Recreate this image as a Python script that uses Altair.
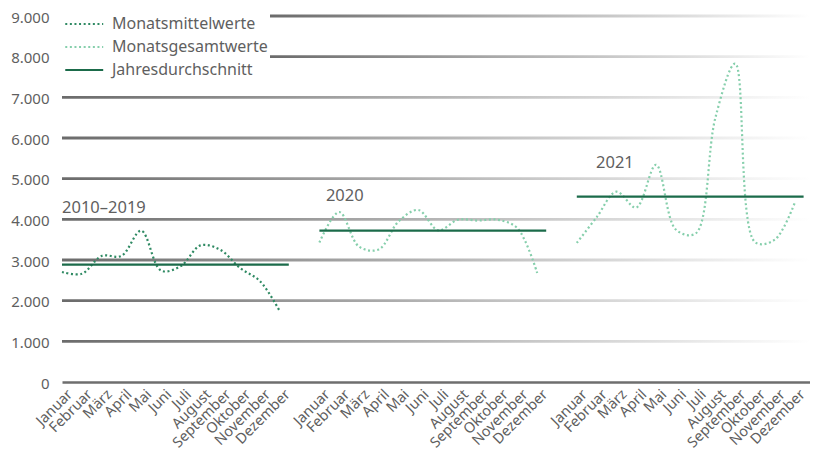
import altair as alt
import pandas as pd

months = ["Januar", "Februar", "März", "April", "Mai", "Juni", "Juli",
          "August", "September", "Oktober", "November", "Dezember"]
periods = ["2010–2019", "2020", "2021"]
period_series = ["Monatsmittelwerte", "Monatsgesamtwerte", "Monatsgesamtwerte"]
series_names = ["Monatsmittelwerte", "Monatsgesamtwerte", "Jahresdurchschnitt"]

vals_2010_2019 = [2705, 2660, 3100, 3100, 3720, 2740, 2850, 3360, 3250, 2800, 2480, 1740]
vals_2020 = [3430, 4180, 3330, 3260, 3950, 4230, 3730, 3990, 3970, 3990, 3780, 2680]
vals_2021 = [3420, 4050, 4680, 4290, 5340, 3750, 3650, 6500, 7830, 3440, 3500, 4400]
averages = [2885, 3720, 4560]

y_ticks = [0, 1000, 2000, 3000, 4000, 5000, 6000, 7000, 8000, 9000]
grid_full = [1000, 2000, 3000, 4000, 5000, 6000, 7000]
grid_short = [8000, 9000]

# annotation anchors (in data coordinates)
ann_x = [0, 13.33, 26.97]
ann_y = [4155, 4441, 5256]

SLOT = 13  # 12 months + 1 gap slot per period
W, H = 748, 366

rows = []
for p, vals in enumerate([vals_2010_2019, vals_2020, vals_2021]):
    for m, v in enumerate(vals):
        rows.append({"i": p * SLOT + m, "value": v, "series": period_series[p], "period": periods[p]})
line_df = pd.DataFrame(rows)

avg_df = pd.DataFrame({
    "start": [p * SLOT for p in range(3)],
    "end": [p * SLOT + 11 for p in range(3)],
    "avg": averages,
    "series": ["Jahresdurchschnitt"] * 3,
})
ann_df = pd.DataFrame({"x": ann_x, "y": ann_y, "label": periods})

tick_idx = [p * SLOT + m for p in range(3) for m in range(12)]
month_arr = "[" + ",".join("'" + m + "'" for m in months) + "]"

FONT = "Noto Sans"
TXT = "#5f5f5f"

xscale = alt.Scale(domain=[0, W / 19.8], nice=False, zero=False)
yscale = alt.Scale(domain=[0, 9000], nice=False)

xaxis = alt.Axis(values=tick_idx, labelExpr=f"{month_arr}[datum.value % {SLOT}]",
                 labelAngle=315, labelAlign="right", labelBaseline="top",
                 labelFontSize=14.5, labelFont=FONT, labelColor=TXT, labelOffset=3,
                 labelPadding=5, labelOverlap=False, labelFlush=False, labelBound=False,
                 ticks=False, grid=False, domainColor="#6e6e6e", domainWidth=2.5,
                 title=None)
yaxis = alt.Axis(values=y_ticks,
                 labelExpr="replace(format(datum.value, ','), ',', '.')",
                 labelFontSize=15, labelFont=FONT, labelColor=TXT, labelPadding=13,
                 labelOffset=1,
                 ticks=False, grid=False, domain=False, title=None)

colors = ["#2f8a63", "#86cfac", "#1b6b4a"]
dashes = [[2, 2.6], [2, 2.6], [1, 0]]
widths = [2.2, 2.2, 3]

legend = alt.Legend(title=None, orient="none", legendX=0, legendY=0,
                    symbolType="M-1,0H7", symbolSize=90,
                    labelFontSize=16, labelFont=FONT, labelColor=TXT,
                    labelOffset=34, rowPadding=7, padding=0)

color_enc = alt.Color("series:N", scale=alt.Scale(domain=series_names, range=colors), legend=legend)
dash_enc = alt.StrokeDash("series:N", scale=alt.Scale(domain=series_names, range=dashes), legend=legend)
width_enc = alt.StrokeWidth("series:N", scale=alt.Scale(domain=series_names, range=widths), legend=legend)


def grad():
    return alt.LinearGradient(gradient="linear", x1=0, x2=1, y1=0, y2=0,
                              stops=[alt.GradientStop(color="#6b6b6b", offset=0),
                                     alt.GradientStop(color="#ffffff", offset=1)])


grid_a = alt.Chart(pd.DataFrame({"v": grid_full})).transform_calculate(v2="datum.v").mark_rect(
    color=grad(), yOffset=-1.4, y2Offset=1.4
).encode(
    x=alt.value(0), x2=alt.value(W),
    y=alt.Y("v:Q", scale=yscale, axis=yaxis), y2="v2:Q",
)
grid_b = alt.Chart(pd.DataFrame({"v": grid_short})).transform_calculate(v2="datum.v").mark_rect(
    color=grad(), yOffset=-1.4, y2Offset=1.4
).encode(
    x=alt.value(208), x2=alt.value(W),
    y=alt.Y("v:Q", scale=yscale, axis=yaxis), y2="v2:Q",
)

lines = alt.Chart(line_df).mark_line(interpolate="catmull-rom", strokeCap="butt").encode(
    x=alt.X("i:Q", scale=xscale, axis=xaxis),
    y=alt.Y("value:Q", scale=yscale, axis=yaxis),
    color=color_enc, strokeDash=dash_enc, strokeWidth=width_enc,
    detail="period:N",
)

avg_rules = alt.Chart(avg_df).mark_rule(x2Offset=9, strokeCap="butt").encode(
    x=alt.X("start:Q", scale=xscale, axis=xaxis),
    x2="end:Q",
    y=alt.Y("avg:Q", scale=yscale, axis=yaxis),
    color=color_enc, strokeDash=dash_enc, strokeWidth=width_enc,
)

ann = alt.Chart(ann_df).mark_text(align="left", baseline="alphabetic", font=FONT,
                                  fontSize=16.5, color=TXT).encode(
    x=alt.X("x:Q", scale=xscale, axis=xaxis),
    y=alt.Y("y:Q", scale=yscale, axis=yaxis),
    text="label:N",
)

chart = alt.layer(grid_a, grid_b, lines, avg_rules, ann).properties(
    width=W, height=H,
    autosize=alt.AutoSizeParams(type="none"),
    padding={"left": 54, "top": 8, "right": 0, "bottom": 70},
).configure_view(stroke=None)

chart.save("out.html", embed_options={"renderer": "svg", "actions": False})
